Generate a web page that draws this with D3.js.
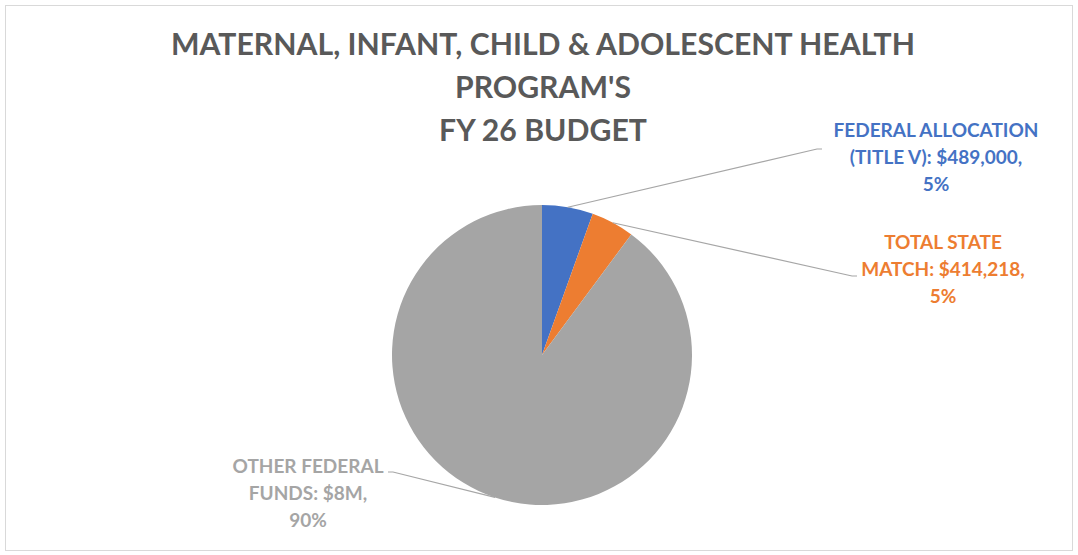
<!DOCTYPE html>
<html>
<head>
<meta charset="utf-8">
<script src="https://cdn.jsdelivr.net/npm/d3@7"></script>
<style>
  html, body { margin: 0; padding: 0; background: #fff; }
  text { font-family: Lato, "Open Sans", sans-serif; font-weight: bold; }
</style>
</head>
<body>
<div id="chart"></div>
<script>
// chart data
var titleLines = ["MATERNAL, INFANT, CHILD & ADOLESCENT HEALTH", "PROGRAM'S", "FY 26 BUDGET"];
var categories = ["FEDERAL ALLOCATION (TITLE V)", "TOTAL STATE MATCH", "OTHER FEDERAL FUNDS"];
var values = [489000, 414218, 8000000];
var valueLabels = ["$489,000", "$414,218", "$8M"];
var colors = ["#4472C4", "#ED7D31", "#A5A5A5"];
var labelColors = ["#4472C4", "#ED7D31", "#A5A5A5"];
// how each data label wraps
var labelLines = [
  ["FEDERAL ALLOCATION", "(TITLE V): $489,000,", "5%"],
  ["TOTAL STATE", "MATCH: $414,218,", "5%"],
  ["OTHER FEDERAL", "FUNDS: $8M,", "90%"]
];

var width = 1078, height = 555;
var cx = 542, cy = 355, radius = 150;

var svg = d3.select("#chart").append("svg")
  .attr("width", width)
  .attr("height", height);

// chart frame
svg.append("rect")
  .attr("x", 5.5).attr("y", 5.5)
  .attr("width", width - 11).attr("height", height - 10)
  .attr("fill", "#fff")
  .attr("stroke", "#d9d9d9");

// title
var titleY = [55, 98, 141];
var title = svg.append("g");
title.selectAll("text")
  .data(titleLines)
  .enter()
  .append("text")
    .attr("x", 543)
    .attr("y", function(d, i){ return titleY[i]; })
    .attr("text-anchor", "middle")
    .attr("fill", "#595959")
    .style("font-size", "30px")
    .text(function(d){ return d; });

// squeeze the title so the first line matches the reference width
var t0 = title.select("text").node().getComputedTextLength();
var squeeze = 744 / t0;
title.selectAll("text").each(function(){
  var w = this.getComputedTextLength();
  d3.select(this).attr("textLength", w * squeeze).attr("lengthAdjust", "spacingAndGlyphs");
});

var total = d3.sum(values);
var pie = d3.pie().sort(null).value(function(d){ return d; });
var arc = d3.arc().innerRadius(0).outerRadius(radius);
var arcs = pie(values);

var g = svg.append("g").attr("transform", "translate(" + cx + "," + cy + ")");

g.selectAll("path.slice")
  .data(arcs)
  .enter()
  .append("path")
    .attr("class", "slice")
    .attr("d", arc)
    .attr("fill", function(d, i){ return colors[i]; });

// where the leader lines end and the label boxes sit (relative to the pie centre)
var labelPos = [
  {lx: 275, ly: -206, tx: 394, ty: -218, side: 1},
  {lx: 310, ly: -79, tx: 401, ty: -106, side: 1},
  {lx: -149, ly: 117, tx: -234, ty: 118, side: -1}
];

var outerPt = function(d){
  var a = (d.startAngle + d.endAngle) / 2;
  return [radius * Math.sin(a), -radius * Math.cos(a)];
};

g.selectAll("path.leader")
  .data(arcs)
  .enter()
  .append("path")
    .attr("class", "leader")
    .attr("fill", "none")
    .attr("stroke", "#a6a6a6")
    .attr("stroke-width", 1.2)
    .attr("d", function(d, i){
      var p = outerPt(d), L = labelPos[i];
      return "M" + p[0] + "," + p[1] + "L" + L.lx + "," + L.ly + "l" + (L.side * 5) + ",0";
    });

var labels = g.selectAll("g.label")
  .data(arcs)
  .enter()
  .append("g")
    .attr("class", "label");

labels.each(function(d, i){
  var L = labelPos[i];
  var pct = Math.round(d.data / total * 100) + "%";
  var lines = labelLines[i].slice();
  lines[lines.length - 1] = pct;
  d3.select(this).selectAll("text")
    .data(lines)
    .enter()
    .append("text")
      .attr("x", L.tx)
      .attr("y", function(s, j){ return L.ty + j * 27; })
      .attr("text-anchor", "middle")
      .attr("fill", labelColors[i])
      .style("font-size", "18px")
      .text(function(s){ return s; });
});

// squeeze labels so "FEDERAL ALLOCATION" matches its reference width
var l0 = labels.select("text").node().getComputedTextLength();
var labelSqueeze = 205 / l0;
labels.selectAll("text").each(function(){
  var w = this.getComputedTextLength();
  d3.select(this).attr("textLength", w * labelSqueeze).attr("lengthAdjust", "spacingAndGlyphs");
});
</script>
</body>
</html>
